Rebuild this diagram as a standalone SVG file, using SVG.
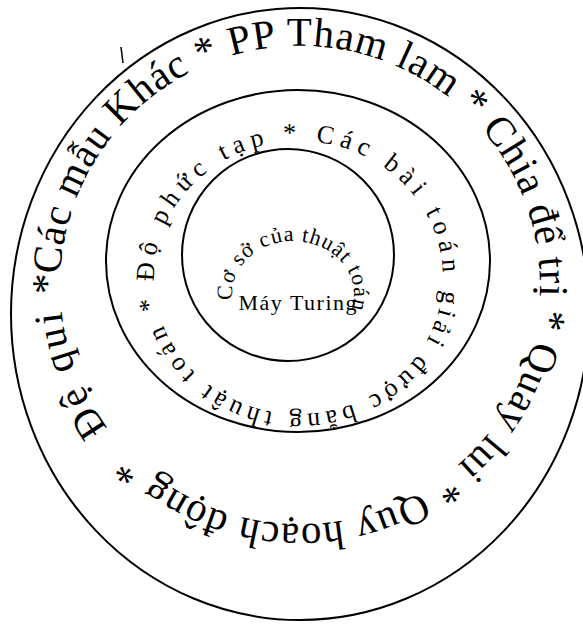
<svg xmlns="http://www.w3.org/2000/svg" xmlns:xlink="http://www.w3.org/1999/xlink" width="583" height="624" viewBox="0 0 583 624">
<style>
.ring{fill:none;stroke:#000;stroke-width:2}
.t{font-family:"Liberation Serif","Times New Roman",serif;fill:#000}
</style>
<defs>
<path id="pOuter" d="M60.23,274.53 A240,240 0 0 1 539.77,295.47 A240,240 0 0 1 60.23,274.53"/>
<path id="pMid" d="M154.06,281.55 A144.5,136.5 0 0 1 442.94,273.45 A144.5,136.5 0 0 1 154.06,281.55"/>
<path id="pIn" d="M232.39,300.0 A61,53 0 1 1 339.73,328.07"/>
</defs>
<rect width="583" height="624" fill="#fff"/>
<g id="outer-ring">
<ellipse class="ring" cx="300" cy="314" rx="289" ry="306"/>
<text class="t" font-size="41" letter-spacing="0.9"><textPath xlink:href="#pOuter">Các mẫu Khác * PP Tham lam * Chia để trị * Quay lui * Quy hoạch động *</textPath></text>
<text class="t" font-size="41" letter-spacing="3.36"><textPath xlink:href="#pOuter" startOffset="1339.9">Đệ qui *</textPath></text>
<line x1="121" y1="47" x2="123" y2="63" stroke="#000" stroke-width="1.5"/>
</g>
<g id="middle-ring">
<ellipse class="ring" cx="298" cy="261" rx="192" ry="171"/>
<text class="t" font-size="26" letter-spacing="6.24"><textPath xlink:href="#pMid">Độ phức tạp * Các bài toán</textPath></text>
<text class="t" font-size="26" letter-spacing="4.8"><textPath xlink:href="#pMid" startOffset="458">giải được bằng thuật toán * </textPath></text>
</g>
<g id="inner-ring">
<ellipse class="ring" cx="288" cy="255" rx="106" ry="106"/>
<text class="t" font-size="22" letter-spacing="1"><textPath xlink:href="#pIn">Cơ sở của thuật toán</textPath></text>
<text class="t" font-size="22" x="238.5" y="310" textLength="118" lengthAdjust="spacing">Máy Turing</text>
</g>
</svg>
